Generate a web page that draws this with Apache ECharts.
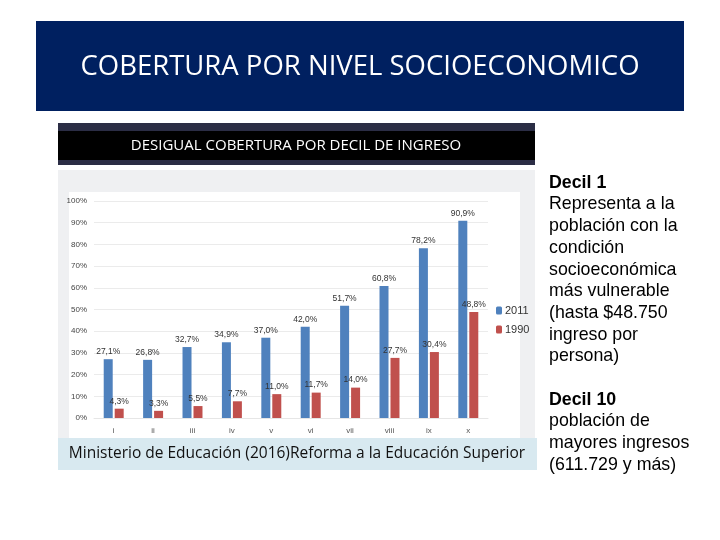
<!DOCTYPE html>
<html>
<head>
<meta charset="utf-8">
<script src="https://cdn.jsdelivr.net/npm/echarts@6/dist/echarts.min.js"></script>
<style>
html,body{margin:0;padding:0;background:#fff;}
#main{width:720px;height:540px;}
</style>
</head>
<body>
<div id="main"></div>
<script>
var categories = ['i','ii','iii','iv','v','vi','vii','viii','ix','x'];
var series2011 = [27.1, 26.8, 32.7, 34.9, 37.0, 42.0, 51.7, 60.8, 78.2, 90.9];
var series1990 = [4.3, 3.3, 5.5, 7.7, 11.0, 11.7, 14.0, 27.7, 30.4, 48.8];
var seriesNames = ['2011', '1990'];
var titleText = 'COBERTURA POR NIVEL SOCIOECONOMICO';
var subtitleText = 'DESIGUAL COBERTURA POR DECIL DE INGRESO';
var sourceText = 'Ministerio de Educación (2016)Reforma a la Educación Superior';
var sideLines = [
  ['b','Decil 1'],['n','Representa a la'],['n','población con la'],['n','condición'],
  ['n','socioeconómica'],['n','más vulnerable'],['n','(hasta $48.750'],['n','ingreso por'],
  ['n','persona)'],['n',''],['b','Decil 10'],['n','población de'],['n','mayores ingresos'],
  ['n','(611.729 y más)']
];

var chart = echarts.init(document.getElementById('main'), null, {renderer:'canvas'});
function fmt(v){ return v.toFixed(1).replace('.', ',') + '%'; }
var sideText = sideLines.map(function(l){ return l[1] === '' ? '' : '{' + l[0] + '|' + l[1] + '}'; }).join('\n');

var option = {
  animation: false,
  backgroundColor: '#ffffff',
  graphic: [
    {type:'rect', z:-10, shape:{x:36,y:21,width:648,height:90}, style:{fill:'#002060'}},
    {type:'text', z:10, x:360, y:67, style:{text:titleText, fill:'#ffffff', font:'27.5px "Open Sans"', align:'center', verticalAlign:'middle'}},
    {type:'rect', z:-10, shape:{x:58,y:123,width:477,height:42}, style:{fill:'#2b2d45'}},
    {type:'rect', z:-9, shape:{x:58,y:131,width:477,height:29}, style:{fill:'#000000'}},
    {type:'text', z:10, x:296, y:146, style:{text:subtitleText, fill:'#ffffff', font:'15px "Open Sans"', align:'center', verticalAlign:'middle'}},
    {type:'rect', z:-10, shape:{x:58,y:170,width:477,height:268}, style:{fill:'#eff0f2'}},
    {type:'rect', z:-9, shape:{x:69,y:192,width:451,height:246}, style:{fill:'#ffffff'}},
    {type:'rect', z:-10, shape:{x:58,y:438,width:479,height:32}, style:{fill:'#d8e9f0'}},
    {type:'text', z:10, x:297, y:454, style:{text:sourceText, fill:'#111111', font:'15.5px "Open Sans"', align:'center', verticalAlign:'middle'}},
    {type:'text', z:10, x:549, y:172, style:{
      text: sideText,
      rich:{
        b:{font:'bold 17.8px "Liberation Sans"', fill:'#000000', lineHeight:21.7},
        n:{font:'17.8px "Liberation Sans"', fill:'#000000', lineHeight:21.7}
      },
      lineHeight:21.7
    }}
  ],
  legend: {
    orient:'vertical', left:491, top:300, itemWidth:6, itemHeight:8, itemGap:8,
    data: seriesNames,
    textStyle:{fontSize:11, color:'#333', fontFamily:'"Liberation Sans Narrow", "Liberation Sans"', padding:[0,0,0,-2]}
  },
  grid: {left:94, right:232, top:201, bottom:122},
  xAxis: {
    type:'category', data: categories,
    axisLine:{show:true, lineStyle:{color:'#e6e6e6'}},
    axisTick:{show:false},
    axisLabel:{fontSize:8, color:'#555', margin:9, fontFamily:'"Liberation Sans"'}
  },
  yAxis: {
    type:'value', min:0, max:100, interval:10,
    axisLine:{show:false}, axisTick:{show:false},
    splitLine:{lineStyle:{color:'#ebebeb'}},
    axisLabel:{fontSize:8, color:'#444', margin:7, fontFamily:'"Liberation Sans Narrow", "Liberation Sans"', formatter:function(v){return v+'%';}}
  },
  series: [
    {name:seriesNames[0], type:'bar', data:series2011, barWidth:9, barGap:'22%',
     itemStyle:{color:'#4f81bd'},
     label:{show:true, position:'top', distance:3, fontSize:8.5, color:'#333', fontFamily:'"Liberation Sans Narrow", "Liberation Sans"', formatter:function(p){return fmt(p.value);}}},
    {name:seriesNames[1], type:'bar', data:series1990, barWidth:9,
     itemStyle:{color:'#c0504d'},
     label:{show:true, position:'top', distance:3, fontSize:8.5, color:'#333', fontFamily:'"Liberation Sans Narrow", "Liberation Sans"', formatter:function(p){return fmt(p.value);}}}
  ]
};
chart.setOption(option);
</script>
</body>
</html>
